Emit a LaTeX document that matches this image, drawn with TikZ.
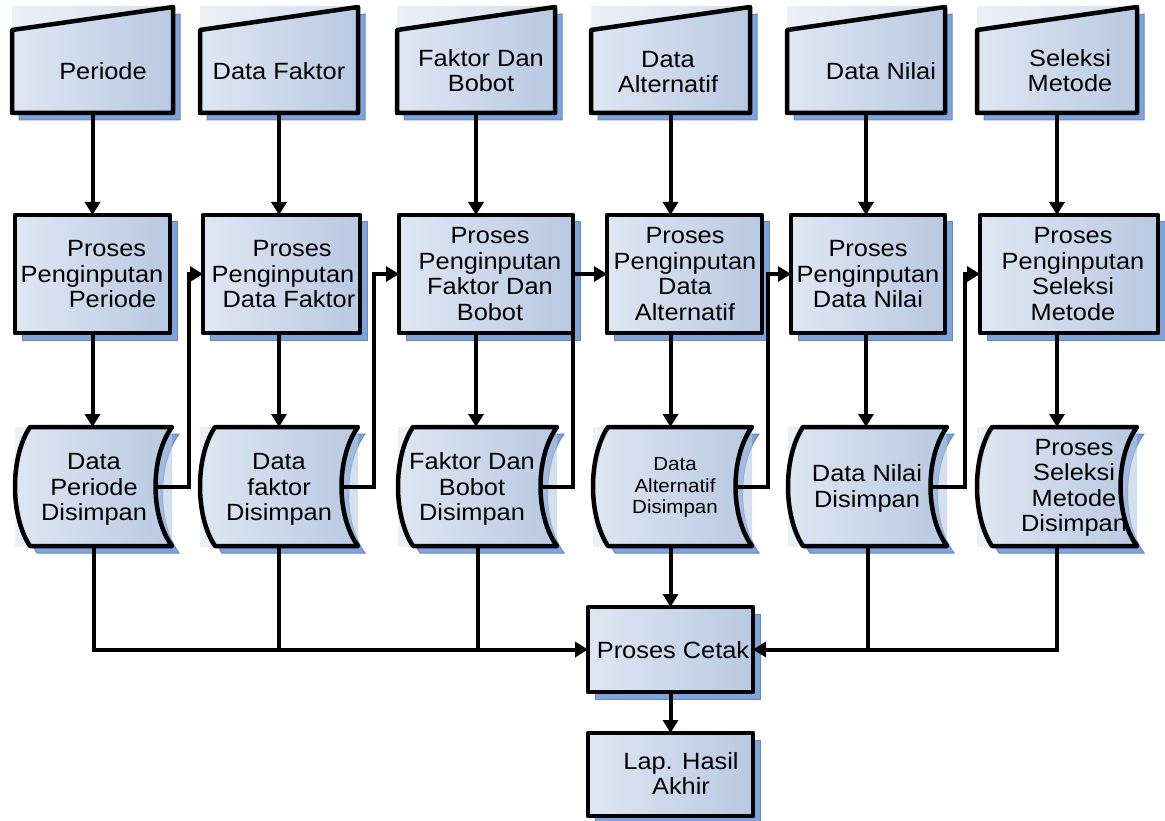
\documentclass[tikz,border=0pt]{standalone}
\usepackage{fontspec}
\setmainfont{Liberation Sans}
\usepackage{graphicx}
\usetikzlibrary{arrows.meta}

\definecolor{fillA}{HTML}{DFE7F3}
\definecolor{fillB}{HTML}{B9C9E2}
\definecolor{shadowfill}{HTML}{82A3D9}
\definecolor{shadowline}{HTML}{5F8BCB}

% multi-line label, slightly widened
\newcommand{\mlbl}[1]{\scalebox{1.08}[1]{\begin{tabular}{@{}c@{}}#1\end{tabular}}}

\tikzset{
  body/.style={draw=black, line width=4.5pt, line join=round, left color=fillA, right color=fillB},
  halo/.style={left color=fillA, right color=fillB, opacity=0.6},
  dropshadow/.style={fill=shadowfill, draw=shadowline, line width=1pt},
  frame/.style={rectangle, inner sep=0pt, outer sep=0pt, draw=none},
  lbl/.style={inner sep=0pt, font=\fontsize{23.5}{25.5}\selectfont},
  smalllbl/.style={inner sep=0pt, font=\fontsize{19}{21.5}\selectfont},
  conn/.style={line width=4pt, draw=black},
  arr/.style={conn, -{Triangle[width=15pt,length=13pt]}},
}

% manual input shape: name, left, right
\newcommand{\maninput}[3]{%
  \path[dropshadow] (#2+7,37) -- (#3+7,14) -- (#3+7,120) -- (#2+7,120) -- cycle;
  \path[halo] (#2,7) rectangle (#3,113);
  \path[body] (#2,30) -- (#3,7) -- (#3,113) -- (#2,113) -- cycle;
  \node[frame, minimum width={#3-#2}, minimum height=106] (#1) at ({(#2+#3)/2},60) {};
}

% stored data shape: name, left, right
\newcommand{\stored}[3]{%
  \path[dropshadow, shift={(7,7)}] (#2+15,427) -- (#3,427)
     .. controls (#3-22,457) and (#3-22,516) .. (#3,546) -- (#2+15,546)
     .. controls (#2-5,516) and (#2-5,457) .. (#2+15,427) -- cycle;
  \path[halo] (#2,427) rectangle (#3,546);
  \path[body] (#2+15,427) -- (#3,427)
     .. controls (#3-22,457) and (#3-22,516) .. (#3,546) -- (#2+15,546)
     .. controls (#2-5,516) and (#2-5,457) .. (#2+15,427) -- cycle;
  \node[frame, minimum width={#3-#2}, minimum height=119] (#1) at ({(#2+#3)/2},486.5) {};
  \coordinate (#1out) at (#3-16.5,486.5);
}

% process box: name, left, right, top, bottom
\newcommand{\procbox}[5]{%
  \path[dropshadow] (#2+7,#4+7) rectangle (#3+7,#5+7);
  \path[body] (#2,#4) rectangle (#3,#5);
  \node[frame, minimum width={#3-#2}, minimum height={#5-#4}] (#1) at ({(#2+#3)/2},{(#4+#5)/2}) {};
}

\begin{document}
\begin{tikzpicture}[x=1pt,y=-1pt]
\path[use as bounding box, fill=white] (0,0) rectangle (1165,821);

% input row
\maninput{in1}{12}{173}
\maninput{in2}{200}{358}
\maninput{in3}{397}{555}
\maninput{in4}{591}{750}
\maninput{in5}{787}{945}
\maninput{in6}{977}{1137}

% process row
\procbox{p1}{15}{170}{215}{333}
\procbox{p2}{203}{360}{215}{333}
\procbox{p3}{399}{573}{215}{333}
\procbox{p4}{607}{762}{215}{333}
\procbox{p5}{791}{945}{215}{333}
\procbox{p6}{980}{1158}{215}{333}

% stored data row
\stored{s1}{15}{172}
\stored{s2}{200}{358}
\stored{s3}{398}{557}
\stored{s4}{593}{752}
\stored{s5}{788}{947}
\stored{s6}{977}{1137}

% output
\procbox{cetak}{588}{753}{607}{692}
\procbox{lap}{588}{753}{733}{816}

% labels
\node[lbl] (tin1) at (103,74) {\mlbl{Periode}};
\node[lbl] (tin2) at (279,74) {\mlbl{Data Faktor}};
\node[lbl] (tin3) at (481,74) {\mlbl{Faktor Dan\\Bobot}};
\node[lbl] (tin4) at (668,75) {\mlbl{Data\\Alternatif}};
\node[lbl] (tin5) at (881,74) {\mlbl{Data Nilai}};
\node[lbl] (tin6) at (1070,74) {\mlbl{Seleksi\\Metode}};

\node[lbl] (tp1) at (92,277) {\mlbl{\hspace*{27pt}Proses\\Penginputan\\\hspace*{38pt}Periode}};
\node[lbl] (tp2) at (283,277) {\mlbl{\hspace*{17pt}Proses\\Penginputan\\\hspace*{11pt}Data Faktor}};
\node[lbl] (tp3) at (490,277) {\mlbl{Proses\\Penginputan\\Faktor Dan\\Bobot}};
\node[lbl] (tp4) at (685,277) {\mlbl{Proses\\Penginputan\\Data\\Alternatif}};
\node[lbl] (tp5) at (868,277) {\mlbl{Proses\\Penginputan\\Data Nilai}};
\node[lbl] (tp6) at (1073,277) {\mlbl{Proses\\Penginputan\\Seleksi\\Metode}};

\node[lbl] (ts1) at (94,490) {\mlbl{Data\\Periode\\Disimpan}};
\node[lbl] (ts2) at (279,490) {\mlbl{Data\\faktor\\Disimpan}};
\node[lbl] (ts3) at (472,490) {\mlbl{Faktor Dan\\Bobot\\Disimpan}};
\node[smalllbl] (ts4) at (675,488) {\mlbl{Data\\Alternatif\\Disimpan}};
\node[lbl] (ts5) at (867,489.5) {\mlbl{Data Nilai\\Disimpan}};
\node[lbl] (ts6) at (1074,488.5) {\mlbl{Proses\\Seleksi\\Metode\\Disimpan}};

\node[lbl] (tcetak) at (673,653) {\mlbl{Proses Cetak}};
\node[lbl] (tlap) at (681,777) {\mlbl{Lap. Hasil\\Akhir}};

% vertical flow in each column
\foreach \i in {1,...,6}{
  \draw[arr] (in\i.south) -- (in\i.south |- p\i.north);
  \draw[arr] (in\i.south |- p\i.south) -- (in\i.south |- s\i.north);
}

% stored data feeding the next process
\draw[arr] (s1out) -- ++(33,0) |- (p2.west);
\draw[arr] (s2out) -- ++(32,0) |- (p3.west);
\draw[arr] (s3out) -- ++(32,0) |- (p4.west);
\draw[arr] (s4out) -- ++(32,0) |- (p5.west);
\draw[arr] (s5out) -- ++(34,0) |- (p6.west);

% collection into the print process
\draw[arr] (s1.south) |- (cetak.west);
\draw[conn] (s2.south) -- (s2.south |- cetak.west);
\draw[conn] (s3.south) -- (s3.south |- cetak.west);
\draw[arr] (s4.south -| cetak.north) -- (cetak.north);
\draw[arr] (s5.south) |- (cetak.east);
\draw[conn] (s6.south) |- (s5.south |- cetak.east);
\draw[arr] (cetak) -- (lap);
\end{tikzpicture}
\end{document}
